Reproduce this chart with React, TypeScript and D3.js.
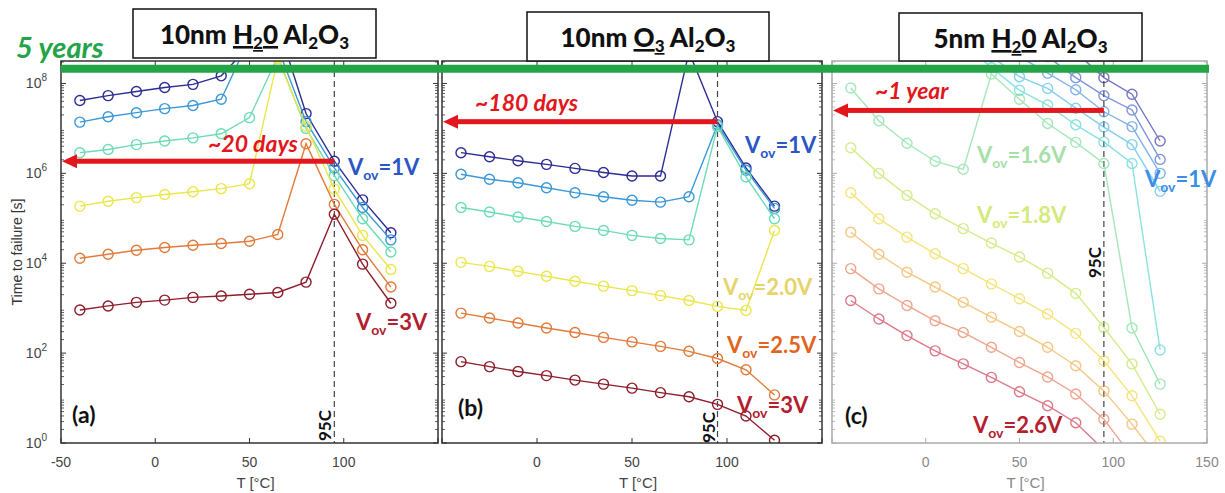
import React from "react";
import * as d3 from "d3";

// temperatures [°C]
const temps = [-40, -25, -10, 5, 20, 35, 50, 65, 80, 95, 110, 125];

// panel (a) 10nm H2O Al2O3 : log10(time to failure [s]), Vov 1V .. 3V
const aV1 = [7.62, 7.73, 7.82, 7.91, 7.98, 8.17, 8.85, 9.3, 7.33, 6.27, 5.41, 4.68];
const aV14 = [7.14, 7.26, 7.35, 7.44, 7.51, 7.65, 9.0, 8.8, 7.15, 6.12, 5.24, 4.52];
const aV18 = [6.46, 6.53, 6.64, 6.72, 6.79, 6.88, 7.24, 8.6, 7.0, 5.95, 4.99, 4.25];
const aV2 = [5.27, 5.38, 5.46, 5.53, 5.59, 5.66, 5.77, 8.55, 7.05, 5.65, 4.62, 3.86];
const aV25 = [4.11, 4.2, 4.29, 4.35, 4.4, 4.44, 4.49, 4.64, 6.66, 5.31, 4.3, 3.47];
const aV3 = [2.96, 3.05, 3.13, 3.18, 3.24, 3.27, 3.31, 3.35, 3.58, 5.09, 3.98, 3.11];

// panel (b) 10nm O3 Al2O3
const bV1 = [6.46, 6.37, 6.28, 6.2, 6.11, 6.02, 5.94, 5.94, 8.7, 7.15, 6.12, 5.27];
const bV14 = [5.98, 5.87, 5.79, 5.68, 5.57, 5.48, 5.4, 5.36, 5.48, 7.08, 6.07, 5.22];
const bV18 = [5.24, 5.14, 5.03, 4.93, 4.82, 4.73, 4.62, 4.55, 4.52, 7.04, 5.92, 4.99];
const bV2 = [4.02, 3.93, 3.82, 3.71, 3.6, 3.49, 3.39, 3.28, 3.17, 3.04, 2.95, 4.73];
const bV25 = [2.89, 2.78, 2.67, 2.56, 2.46, 2.35, 2.25, 2.15, 2.04, 1.88, 1.63, 1.07];
const bV3 = [1.81, 1.7, 1.59, 1.5, 1.4, 1.31, 1.22, 1.12, 1.03, 0.86, 0.6, 0.06];

// panel (c) 5nm H2O Al2O3 (null = not measured / off chart)
const cV1 = [null, null, null, null, null, null, null, null, 8.7, 8.13, 7.76, 6.72];
const cV11 = [null, null, null, null, null, null, null, 8.6, 8.13, 7.73, 7.41, 6.31];
const cV12 = [null, null, null, null, null, null, 8.6, 8.23, 7.86, 7.37, 7.04, 6.0];
const cV13 = [null, null, null, null, null, 8.6, 8.15, 7.89, 7.45, 7.03, 6.64, 5.6];
const cV14 = [null, null, null, null, 8.9, 8.35, 7.85, 7.52, 7.08, 6.7, 6.22, 2.07];
const cV16 = [7.9, 7.17, 6.67, 6.27, 6.09, 8.21, 7.65, 7.11, 6.69, 6.22, 2.56, 1.31];
const cV18 = [6.57, 6.0, 5.51, 5.1, 4.77, 4.45, 4.14, 3.78, 3.33, 2.57, 1.76, 0.64];
const cV20 = [5.57, 4.99, 4.58, 4.21, 3.88, 3.54, 3.21, 2.87, 2.44, 1.83, 1.05, 0.04];
const cV22 = [4.69, 4.2, 3.8, 3.47, 3.13, 2.8, 2.48, 2.13, 1.72, 1.16, 0.42, -0.4];
const cV24 = [3.88, 3.43, 3.06, 2.72, 2.46, 2.13, 1.79, 1.47, 1.09, 0.53, -0.3, null];
const cV26 = [3.17, 2.76, 2.39, 2.05, 1.76, 1.46, 1.14, 0.83, 0.45, -0.15, null, null];

// annotations (log10 s)
const fiveYearsLog = 8.33;
const arrowLogs = [6.27, 7.15, 7.4];
const arrowTexts = ["~20 days", "~180 days", "~1 year"];
const xTickValues = [-50, 0, 50, 100, 150];
const yMajorExps = [0, 2, 4, 6, 8];

const jet6 = ["#2c2c96", "#3a98d8", "#6cdcb4", "#ebe64a", "#e27a3a", "#8e1c2a"];
const jet11 = ["#1c1c9c", "#2a50c4", "#2f82d8", "#33b2e6", "#3fd0cc", "#6ad98c",
  "#b8e040", "#f0d224", "#f0a232", "#e86a44", "#c8203e"];

const TOP = 61;
const BOTTOM = 443;
const yScale = d3.scaleLog().domain([1, 10 ** 8.5]).range([BOTTOM, TOP]);

const LATO = "Lato, 'Open Sans', sans-serif";
const SANS = "'Liberation Sans', Arial, sans-serif";

function Vov({ x, y, val, color }: any) {
  return (
    <text x={x} y={y} fill={color} fontFamily={LATO} fontWeight="bold" fontSize={22}>
      V<tspan dy={5} fontSize={14}>ov</tspan><tspan dy={-5}>={val}</tspan>
    </text>
  );
}

function Title({ x, y, w, h, parts }: any) {
  return (
    <g>
      <rect x={x} y={y} width={w} height={h} fill="#fff" stroke="#111" strokeWidth={1.5} />
      <text x={x + w / 2} y={y + 35} textAnchor="middle" fontFamily={LATO} fontWeight="900"
        fontSize={26} fill="#111">
        {parts.map((p: any, i: number) => (
          <tspan key={i} dy={p.sub ? 5 : p.after ? -5 : 0} fontSize={p.sub ? 17 : 26}
            textDecoration={p.u ? "underline" : undefined}>{p.t}</tspan>
        ))}
      </text>
    </g>
  );
}

function Panel({ id, x0, x1, series, colors, opacity, axisColor, labelColor, xLabels, showY, label95Y }: any) {
  const x = d3.scaleLinear().domain([-50, 150]).range([x0, x1]);
  const line = d3.line<any>()
    .defined((v) => v != null)
    .x((v, i) => x(temps[i]))
    .y((v) => yScale(10 ** v));
  const minor: number[] = [];
  for (let k = 0; k <= 8; k++) {
    for (let m = 2; m <= 9; m++) {
      const v = m * 10 ** k;
      if (Math.log10(v) <= 8.5) minor.push(v);
    }
  }
  const x95 = x(95);
  return (
    <g>
      <defs>
        <clipPath id={"clip" + id}>
          <rect x={x0} y={TOP} width={x1 - x0} height={BOTTOM - TOP} />
        </clipPath>
      </defs>
      <rect x={x0} y={TOP} width={x1 - x0} height={BOTTOM - TOP} fill="#fff" />
      <g clipPath={`url(#clip${id})`}>
        <line x1={x95} x2={x95} y1={TOP} y2={BOTTOM} stroke="#444" strokeWidth={1.2} strokeDasharray="6,4" />
        {series.map((s: any, si: number) => (
          <g key={si} stroke={colors[si]} fill="none" strokeWidth={1.4} opacity={opacity}>
            <path d={line(s) || ""} />
            {s.map((v: any, i: number) => v == null ? null : (
              <circle key={i} cx={x(temps[i])} cy={yScale(10 ** v)} r={5} />
            ))}
          </g>
        ))}
      </g>
      {xTickValues.map((t) => (
        <g key={t} stroke={axisColor} strokeWidth={1}>
          <line x1={x(t)} x2={x(t)} y1={BOTTOM} y2={BOTTOM - 5} />
          <line x1={x(t)} x2={x(t)} y1={TOP} y2={TOP + 5} />
        </g>
      ))}
      {yMajorExps.map((e) => (
        <g key={e} stroke={axisColor} strokeWidth={1}>
          <line x1={x0} x2={x0 + 5} y1={yScale(10 ** e)} y2={yScale(10 ** e)} />
          <line x1={x1} x2={x1 - 5} y1={yScale(10 ** e)} y2={yScale(10 ** e)} />
        </g>
      ))}
      {minor.map((v, i) => (
        <g key={i} stroke={axisColor} strokeWidth={0.8}>
          <line x1={x0} x2={x0 + 3} y1={yScale(v)} y2={yScale(v)} />
          <line x1={x1} x2={x1 - 3} y1={yScale(v)} y2={yScale(v)} />
        </g>
      ))}
      <rect x={x0} y={TOP} width={x1 - x0} height={BOTTOM - TOP} fill="none" stroke={axisColor} strokeWidth={1.5} />
      {xLabels.map((t: number) => (
        <text key={t} x={x(t)} y={467} textAnchor="middle" fontFamily={SANS} fontSize={14} fill={labelColor}>{t}</text>
      ))}
      <text x={(x0 + x1) / 2 + 6} y={488} textAnchor="middle" fontFamily={SANS} fontSize={15} fill={labelColor}>T [°C]</text>
      {showY && yMajorExps.map((e) => (
        <text key={e} x={47} y={yScale(10 ** e) + 5} textAnchor="end" fontFamily={SANS} fontSize={14} fill={labelColor}>
          10<tspan dy={-7} fontSize={10}>{e}</tspan>
        </text>
      ))}
      <text transform={`translate(${x95 - 3},${label95Y}) rotate(-90)`} fontFamily={LATO} fontWeight="bold"
        fontSize={17} fill="#111">95C</text>
    </g>
  );
}

function Arrow({ xFrom, xTo, y }: any) {
  return (
    <g fill="#e3161d" stroke="none">
      <rect x={xTo + 12} y={y - 2.5} width={xFrom - xTo - 12} height={5} />
      <path d={`M${xTo},${y} L${xTo + 15},${y - 7} L${xTo + 15},${y + 7} Z`} />
    </g>
  );
}

export default function App() {
  const xa = d3.scaleLinear().domain([-50, 150]).range([61, 438]);
  const xb = d3.scaleLinear().domain([-50, 150]).range([442, 822]);
  const xc = d3.scaleLinear().domain([-50, 150]).range([832, 1207]);
  const gy = yScale(10 ** fiveYearsLog);
  const h2o = [{ t: "10nm " }, { t: "H", u: true }, { t: "2", sub: true, u: true }, { t: "0", after: true, u: true },
    { t: " Al" }, { t: "2", sub: true }, { t: "O", after: true }, { t: "3", sub: true }];
  const o3 = [{ t: "10nm " }, { t: "O", u: true }, { t: "3", sub: true, u: true }, { t: " Al", after: true },
    { t: "2", sub: true }, { t: "O", after: true }, { t: "3", sub: true }];
  const h2o5 = [{ t: "5nm " }, ...h2o.slice(1)];
  const arrowX = [xa, xb, xc];
  const arrowTextX = [208, 475, 875];
  const arrowTextY = [152, 111, 99];
  return (
    <svg width={1225} height={493} style={{ position: "absolute", left: 0, top: 0, background: "#fff" }}>
      <rect width={1225} height={493} fill="#fff" />
      <Panel id="a" x0={61} x1={438} series={[aV1, aV14, aV18, aV2, aV25, aV3]} colors={jet6} opacity={1}
        axisColor="#333" labelColor="#444" xLabels={[-50, 0, 50, 100]} showY label95Y={441} />
      <Panel id="b" x0={442} x1={822} series={[bV1, bV14, bV18, bV2, bV25, bV3]} colors={jet6} opacity={1}
        axisColor="#333" labelColor="#444" xLabels={[0, 50, 100]} showY={false} label95Y={443} />
      <Panel id="c" x0={832} x1={1207} series={[cV1, cV11, cV12, cV13, cV14, cV16, cV18, cV20, cV22, cV24, cV26]}
        colors={jet11} opacity={0.6} axisColor="#aaa" labelColor="#888" xLabels={[0, 50, 100, 150]} showY={false}
        label95Y={278} />

      <text transform="translate(22,252) rotate(-90)" textAnchor="middle" fontFamily={SANS} fontSize={14} fill="#333">
        Time to failure [s]
      </text>

      <line x1={61} x2={1209} y1={gy} y2={gy} stroke="#22a447" strokeWidth={8} />
      <text x={16} y={58} fill="#22a447" fontFamily={LATO} fontWeight="bold" fontStyle="italic" fontSize={29}>5 years</text>

      {arrowLogs.map((v, i) => (
        <g key={i}>
          <Arrow xFrom={arrowX[i](95)} xTo={arrowX[i](-50) + 1} y={yScale(10 ** v)} />
          <text x={arrowTextX[i]} y={arrowTextY[i]} fill="#e3161d" fontFamily={LATO} fontWeight="bold"
            fontStyle="italic" fontSize={23}>{arrowTexts[i]}</text>
        </g>
      ))}

      <Title x={133} y={9} w={243} h={49} parts={h2o} />
      <Title x={527} y={12} w={242} h={49} parts={o3} />
      <Title x={899} y={13} w={243} h={48} parts={h2o5} />

      <Vov x={348} y={175} val="1V" color="#2a56c6" />
      <Vov x={356} y={330} val="3V" color="#b3202e" />
      <Vov x={745} y={153} val="1V" color="#2a56c6" />
      <Vov x={723} y={295} val="2.0V" color="#e6d46a" />
      <Vov x={727} y={353} val="2.5V" color="#e0651e" />
      <Vov x={737} y={413} val="3V" color="#b3202e" />
      <Vov x={1145} y={187} val="1V" color="#3a8ee6" />
      <Vov x={977} y={163} val="1.6V" color="#a6e0a8" />
      <Vov x={977} y={223} val="1.8V" color="#d4ea7a" />
      <Vov x={973} y={433} val="2.6V" color="#b3202e" />

      <text x={72} y={423} fontFamily={LATO} fontWeight="bold" fontSize={23} fill="#111">(a)</text>
      <text x={458} y={416} fontFamily={LATO} fontWeight="bold" fontSize={23} fill="#111">(b)</text>
      <text x={845} y={424} fontFamily={LATO} fontWeight="bold" fontSize={23} fill="#111">(c)</text>
    </svg>
  );
}
